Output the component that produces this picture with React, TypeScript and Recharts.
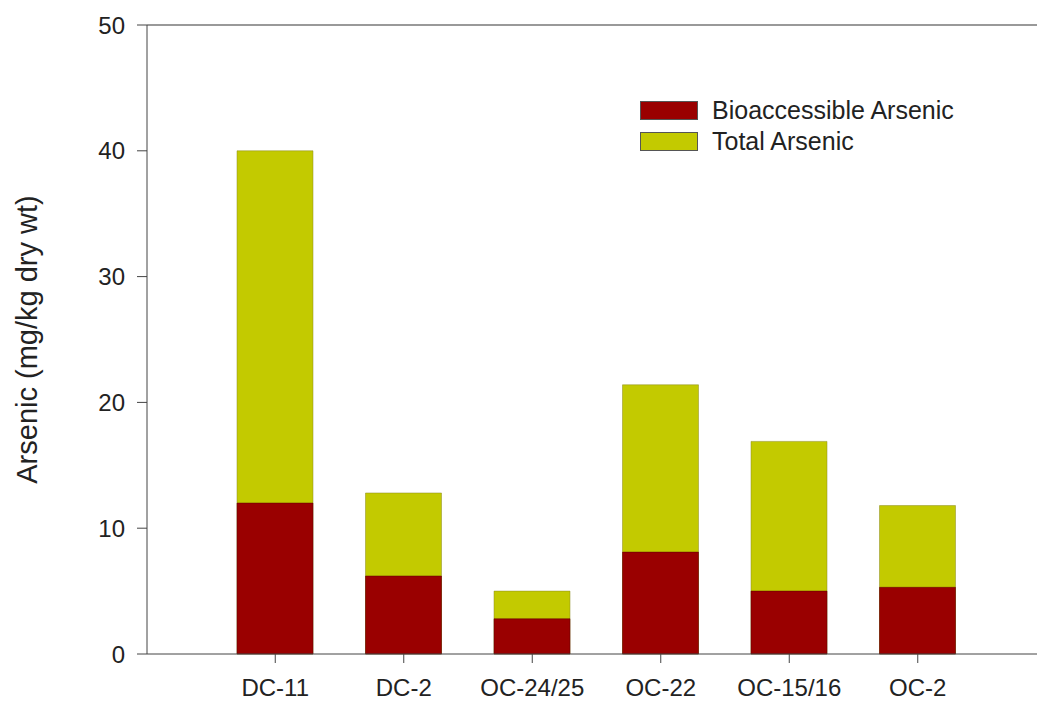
import React from 'react';
import { BarChart, Bar, XAxis, YAxis, ReferenceLine } from 'recharts';

const sites = ['DC-11', 'DC-2', 'OC-24/25', 'OC-22', 'OC-15/16', 'OC-2'];
const totalArsenic = [40, 12.8, 5.0, 21.4, 16.9, 11.8];
const bioArsenic = [12.0, 6.2, 2.8, 8.1, 5.0, 5.3];
const yTicks = [0, 10, 20, 30, 40, 50];

const data = sites.map((site, i) => ({
  site,
  total: totalArsenic[i],
  bio: bioArsenic[i],
}));

const RED = '#9a0000';
const YELLOW = '#c3ca00';
const AXIS = '#444';
const FONT = 'Liberation Sans, Arial, sans-serif';

const legendItems = [
  { name: 'Bioaccessible Arsenic', color: RED },
  { name: 'Total Arsenic', color: YELLOW },
];

// legend order differs from draw order, so it is drawn by hand over the plot
const LegendBox = () => (
  <div style={{ position: 'absolute', left: 640, top: 95, fontFamily: FONT, fontSize: 25, color: '#222' }}>
    {legendItems.map((it) => (
      <div key={it.name} style={{ display: 'flex', alignItems: 'center', height: 31 }}>
        <div style={{ width: 56, height: 17, background: it.color, border: '1px solid #555', marginRight: 14 }} />
        <span>{it.name}</span>
      </div>
    ))}
  </div>
);

const App: React.FC = () => {
  return (
    <div style={{ position: 'absolute', left: 0, top: 0, width: 1037, height: 703, background: '#fff' }}>
      <BarChart
        width={1037}
        height={703}
        data={data}
        barGap={-76}
        margin={{ top: 25, right: 0, left: 0, bottom: 0 }}
      >
        <XAxis
          dataKey="site"
          height={49}
          padding={{ left: 64, right: 55 }}
          stroke={AXIS}
          tickSize={9}
          tickMargin={16}
          tick={{ fontSize: 24, fill: '#222', fontFamily: FONT }}
        />
        <YAxis
          width={147}
          domain={[0, 50]}
          ticks={yTicks}
          stroke={AXIS}
          tickSize={10}
          tickMargin={12}
          tick={{ fontSize: 24, fill: '#222', fontFamily: FONT }}
          label={{
            value: 'Arsenic (mg/kg dry wt)',
            angle: -90,
            position: 'insideLeft',
            offset: 27,
            style: { textAnchor: 'middle', fontSize: 29, fill: '#222', fontFamily: FONT },
          }}
        />
        <ReferenceLine y={50} stroke="#777" strokeWidth={1.5} />
        <Bar dataKey="total" name="Total Arsenic" fill={YELLOW} stroke="#8a8a20" strokeWidth={0.5} barSize={76} isAnimationActive={false} />
        <Bar dataKey="bio" name="Bioaccessible Arsenic" fill={RED} stroke="#5a0000" strokeWidth={0.5} barSize={76} isAnimationActive={false} />
      </BarChart>
      <LegendBox />
    </div>
  );
};

export default App;
